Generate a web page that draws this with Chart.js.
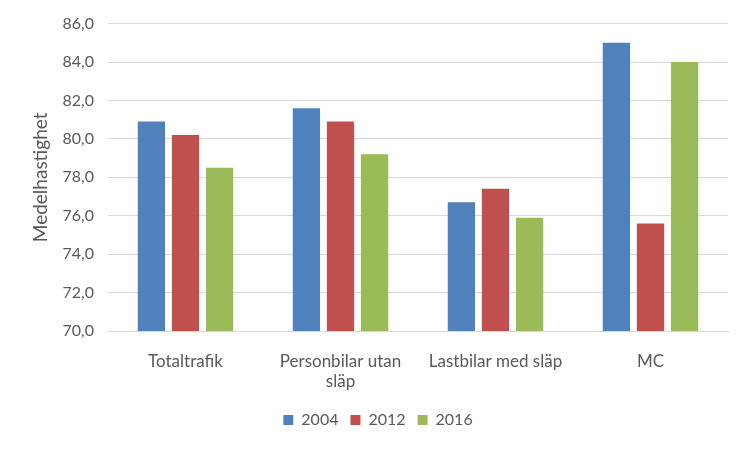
<!DOCTYPE html>
<html>
<head>
<meta charset="utf-8">
<script src="https://cdn.jsdelivr.net/npm/chart.js@4"></script>
<style>
html,body{margin:0;padding:0;background:#fff;}
#wrap{width:750px;height:450px;}
</style>
</head>
<body>
<div id="wrap"><canvas id="c" width="750" height="450"></canvas></div>
<script>
const categories = ['Totaltrafik', ['Personbilar utan', 'släp'], 'Lastbilar med släp', 'MC'];
const seriesNames = ['2004', '2012', '2016'];
const values2004 = [80.9, 81.6, 76.7, 85.0];
const values2012 = [80.2, 80.9, 77.4, 75.6];
const values2016 = [78.5, 79.2, 75.9, 84.0];
const yTicks = [70, 72, 74, 76, 78, 80, 82, 84, 86];
const yTitle = 'Medelhastighet';

const colors = ['#4F81BD', '#C0504D', '#9BBB59'];
const font = "Lato, 'Liberation Sans', sans-serif";

new Chart(document.getElementById('c'), {
  type: 'bar',
  data: {
    labels: categories,
    datasets: [values2004, values2012, values2016].map((d, i) => ({
      label: seriesNames[i],
      data: d,
      backgroundColor: colors[i],
      borderWidth: 0,
      categoryPercentage: 0.66,
      barPercentage: 0.8
    }))
  },
  options: {
    responsive: false,
    animation: false,
    layout: { padding: { top: 15, right: 22, left: 28, bottom: 12 } },
    plugins: {
      legend: {
        position: 'bottom',
        labels: {
          font: { family: font, size: 16 },
          color: '#595959',
          boxWidth: 10,
          boxHeight: 10,
          padding: 12
        }
      },
      tooltip: { enabled: false }
    },
    scales: {
      x: {
        grid: { display: false },
        border: { color: '#D9D9D9', width: 1 },
        ticks: {
          font: { family: font, size: 17, lineHeight: 1.2 },
          color: '#595959',
          padding: 12,
          maxRotation: 0,
          autoSkip: false
        },
        afterFit: (s) => { s.height = 69; }
      },
      y: {
        min: 70,
        max: 86,
        afterBuildTicks: (s) => { s.ticks = yTicks.map(v => ({ value: v })); },
        grid: { color: '#D9D9D9', drawTicks: false },
        border: { display: false },
        ticks: {
          font: { family: font, size: 16 },
          color: '#595959',
          padding: 14,
          callback: (v) => Number(v).toFixed(1).replace('.', ',')
        },
        title: {
          display: true,
          text: yTitle,
          font: { family: font, size: 19 },
          color: '#595959',
          padding: { top: 1, bottom: 4 }
        },
        afterFit: (s) => { s.width = 80; }
      }
    }
  }
});
</script>
</body>
</html>
